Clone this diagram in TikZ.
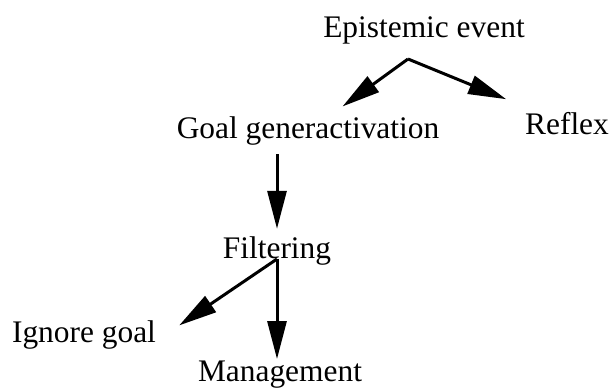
\documentclass[tikz,border=0pt]{standalone}
\usepackage{fontspec}
\setmainfont{Liberation Serif}
\usepackage{tikz}
\usetikzlibrary{arrows.meta,positioning}

\begin{document}
\begin{tikzpicture}[x=0.5pt,y=-0.5pt,>={Triangle[length=19pt,width=9.5pt]},
  lbl/.style={anchor=base,inner sep=4pt,font=\fontsize{15.7}{18}\selectfont},
  flow/.style={->,line width=1.5pt}]
\useasboundingbox (0,0) rectangle (610,389);
\node[lbl] (event) at (424,38) {Epistemic event};
\node[lbl] (goal) at (308,139) {Goal generactivation};
\node[lbl] (reflex) at (567,135) {Reflex};
\node[lbl] (filter) at (277,259) {Filtering};
\node[lbl] (ignore) at (84,343) {Ignore goal};
\node[lbl] (manage) at (280,382) {Management};
\coordinate (evsplit) at (408,59);
\draw[flow,shorten >=2pt] (evsplit)--(goal);
\draw[flow,shorten >=7pt] (evsplit)--(reflex);
\draw[flow] (goal.south -| filter.base)--(filter.north);
\draw[flow,shorten >=9pt] (filter.base)--(ignore.east);
\draw[flow,shorten >=-3pt] (filter.base)--(filter.base |- manage.north);
\end{tikzpicture}
\end{document}
